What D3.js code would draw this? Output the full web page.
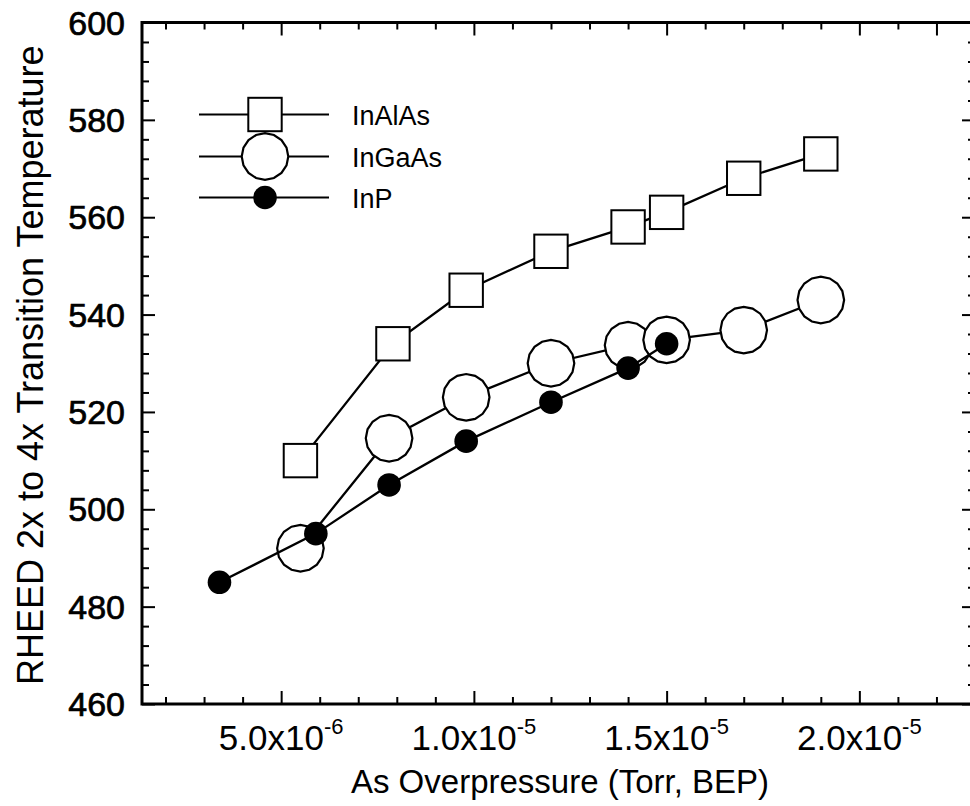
<!DOCTYPE html>
<html>
<head>
<meta charset="utf-8">
<script src="https://cdn.jsdelivr.net/npm/d3@7"></script>
<style>
  html, body { margin: 0; padding: 0; background: #fff; }
  svg { display: block; font-family: "Liberation Sans", Arial, Helvetica, sans-serif; }
</style>
</head>
<body>
<svg id="chart" width="970" height="806"></svg>
<script>
// As overpressure in units of 1e-6 Torr (BEP), temperature in degrees C
const inAlAsX = [5.5, 7.9, 9.8, 12, 14, 15, 17, 19];
const inAlAsY = [510, 534, 545, 553, 558, 561, 568, 573];

const inGaAsX = [5.5, 7.8, 9.8, 12, 14, 15, 17, 19];
const inGaAsY = [492, 514.6, 523, 530, 533.7, 534.8, 536.8, 543];

const inPX = [3.4, 5.9, 7.8, 9.8, 12, 14, 15];
const inPY = [485, 495, 505, 514, 522, 529, 534];

const seriesNames = ['InAlAs', 'InGaAs', 'InP'];

const xMajorTicks = [5, 10, 15, 20];
const xTickMantissa = ['5.0', '1.0', '1.5', '2.0'];
const xTickExponent = ['-6', '-5', '-5', '-5'];
const yMajorTicks = [460, 480, 500, 520, 540, 560, 580, 600];

const svg = d3.select('#chart');

// plot frame (the right edge sits just outside the picture, as in the scan)
const plotLeft = 142, plotRight = 975, plotTop = 22.5, plotBottom = 704;

const x = d3.scaleLinear().domain([1.39, 23]).range([plotLeft, plotRight]);
const y = d3.scaleLinear().domain([460, 600]).range([plotBottom, plotTop]);

const xMinor = d3.range(2, 23).filter(v => v % 5 !== 0);
const yMinor = d3.range(460, 601, 4).filter(v => v % 20 !== 0);

const majorLen = 13, minorLen = 7;

const axisG = svg.append('g').attr('class', 'axes');

function drawAxis(axisFn, scale, values, len, transform) {
    axisG.append('g')
        .attr('transform', transform)
        .call(axisFn(scale).tickValues(values).tickSize(-len).tickSizeOuter(0).tickFormat(''))
        .call(g => g.select('.domain').remove())
        .call(g => g.selectAll('.tick line').attr('stroke', '#000').attr('stroke-width', 2));
}

drawAxis(d3.axisBottom, x, xMajorTicks, majorLen, `translate(0,${plotBottom})`);
drawAxis(d3.axisBottom, x, xMinor, minorLen, `translate(0,${plotBottom})`);
drawAxis(d3.axisTop, x, xMajorTicks.concat([22]), majorLen, `translate(0,${plotTop})`);
drawAxis(d3.axisTop, x, xMinor.filter(v => v !== 22), minorLen, `translate(0,${plotTop})`);
drawAxis(d3.axisLeft, y, yMajorTicks, majorLen, `translate(${plotLeft},0)`);
drawAxis(d3.axisLeft, y, yMinor, minorLen, `translate(${plotLeft},0)`);
drawAxis(d3.axisRight, y, yMajorTicks, majorLen, `translate(${plotRight},0)`);
drawAxis(d3.axisRight, y, yMinor, minorLen, `translate(${plotRight},0)`);

svg.append('rect')
    .attr('x', plotLeft).attr('y', plotTop)
    .attr('width', plotRight - plotLeft).attr('height', plotBottom - plotTop)
    .attr('fill', 'none').attr('stroke', '#000').attr('stroke-width', 3);

// y tick labels
svg.append('g').selectAll('text')
    .data(yMajorTicks)
    .join('text')
    .attr('x', plotLeft - 17)
    .attr('y', d => y(d) + 12)
    .attr('text-anchor', 'end')
    .attr('font-size', 34)
    .attr('stroke', '#000').attr('stroke-width', 0.7)
    .text(d => d);

// x tick labels with superscript exponent
const xLab = svg.append('g').selectAll('text')
    .data(xMajorTicks)
    .join('text')
    .attr('x', d => x(d))
    .attr('y', 750)
    .attr('text-anchor', 'middle')
    .attr('font-size', 35);
xLab.append('tspan').text((d, i) => xTickMantissa[i] + 'x10');
xLab.append('tspan').attr('font-size', 22).attr('dy', -16).text((d, i) => xTickExponent[i]);

// axis titles
svg.append('text')
    .attr('x', 560).attr('y', 793)
    .attr('text-anchor', 'middle')
    .attr('font-size', 33)
    .text('As Overpressure (Torr, BEP)');

svg.append('text')
    .attr('transform', `translate(43,${(plotTop + plotBottom) / 2 + 2}) rotate(-90)`)
    .attr('text-anchor', 'middle')
    .attr('font-size', 36)
    .text('RHEED 2x to 4x Transition Temperature');

// markers
const polyCircle = r => {
    const n = 16;
    const pts = d3.range(n).map(k => [r * Math.cos(2 * Math.PI * k / n), r * Math.sin(2 * Math.PI * k / n)]);
    return 'M' + pts.join('L') + 'Z';
};

const markers = {
    InAlAs: g => g.append('rect').attr('x', -16.7).attr('y', -16.7).attr('width', 33.4).attr('height', 33.4)
        .attr('fill', '#fff').attr('stroke', '#000').attr('stroke-width', 2),
    InGaAs: g => g.append('path').attr('d', polyCircle(23.3))
        .attr('fill', '#fff').attr('stroke', '#000').attr('stroke-width', 2.2),
    InP: g => g.append('circle').attr('r', 11.8).attr('fill', '#000')
};

const series = [
    { name: seriesNames[0], xs: inAlAsX, ys: inAlAsY },
    { name: seriesNames[1], xs: inGaAsX, ys: inGaAsY },
    { name: seriesNames[2], xs: inPX, ys: inPY }
];

const line = d3.line().x(d => x(d[0])).y(d => y(d[1]));

series.forEach(s => {
    const pts = s.xs.map((v, i) => [v, s.ys[i]]);
    const g = svg.append('g');
    g.append('path')
        .attr('d', line(pts))
        .attr('fill', 'none').attr('stroke', '#000').attr('stroke-width', 2.3);
    g.selectAll('g.pt')
        .data(pts)
        .join('g')
        .attr('class', 'pt')
        .attr('transform', d => `translate(${x(d[0])},${y(d[1])})`)
        .each(function () { markers[s.name](d3.select(this)); });
});

// legend
const legendRows = [114.5, 156.5, 197.5];
const legend = svg.append('g');
series.forEach((s, i) => {
    const ly = legendRows[i];
    legend.append('line')
        .attr('x1', 199).attr('x2', 329).attr('y1', ly).attr('y2', ly)
        .attr('stroke', '#000').attr('stroke-width', 2);
    const mg = legend.append('g').attr('transform', `translate(265,${ly})`);
    markers[s.name](mg);
    legend.append('text')
        .attr('x', 352).attr('y', ly + 10)
        .attr('font-size', 27)
        .text(s.name);
});
</script>
</body>
</html>
